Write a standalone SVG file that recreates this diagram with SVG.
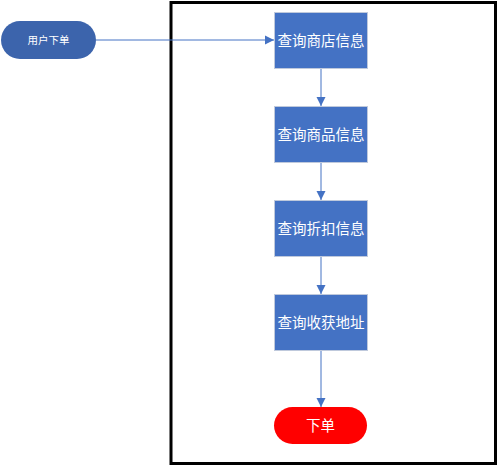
<svg xmlns="http://www.w3.org/2000/svg" width="500" height="467" viewBox="0 0 500 467">
<style>
.box{fill:#4472c4;stroke:#bfc9dc;stroke-width:1}
.t{fill:#fff;font-family:"Liberation Sans","Noto Sans CJK SC",sans-serif;text-anchor:middle;dominant-baseline:central}
.c{stroke:#4472c4;stroke-width:1;fill:none;marker-end:url(#ah)}
</style>
<defs>
<marker id="ah" markerWidth="10" markerHeight="10" refX="9" refY="5" orient="auto" markerUnits="userSpaceOnUse">
<path d="M0,0.5 L9,5 L0,9.5 Z" fill="#4472c4"/>
</marker>
</defs>
<rect x="0" y="0" width="500" height="467" fill="#fff"/>
<rect id="frame" x="171" y="2.5" width="324.5" height="461" fill="none" stroke="#000" stroke-width="3"/>
<g id="connectors">
<path class="c" d="M96,40 H274"/>
<path class="c" d="M321,68 V106"/>
<path class="c" d="M321,162 V200"/>
<path class="c" d="M321,256 V294"/>
<path class="c" d="M321,350 V407"/>
</g>
<g id="start">
<rect x="1" y="21" width="95" height="38" rx="19" fill="#3c64ac"/>
<text class="t" x="48.5" y="40" font-size="10.5">用户下单</text>
</g>
<g id="n1">
<rect class="box" x="274.5" y="12.5" width="93" height="56"/>
<text class="t" x="321" y="40.5" font-size="14.5">查询商店信息</text>
</g>
<g id="n2">
<rect class="box" x="274.5" y="106.5" width="93" height="56"/>
<text class="t" x="321" y="134.5" font-size="14.5">查询商品信息</text>
</g>
<g id="n3">
<rect class="box" x="274.5" y="200.5" width="93" height="56"/>
<text class="t" x="321" y="228.5" font-size="14.5">查询折扣信息</text>
</g>
<g id="n4">
<rect class="box" x="274.5" y="294.5" width="93" height="56"/>
<text class="t" x="321" y="322.5" font-size="14.5">查询收获地址</text>
</g>
<g id="end">
<rect x="274" y="407" width="93" height="37" rx="18.5" fill="#ff0000"/>
<text class="t" x="320.5" y="425.5" font-size="14.5">下单</text>
</g>
</svg>
